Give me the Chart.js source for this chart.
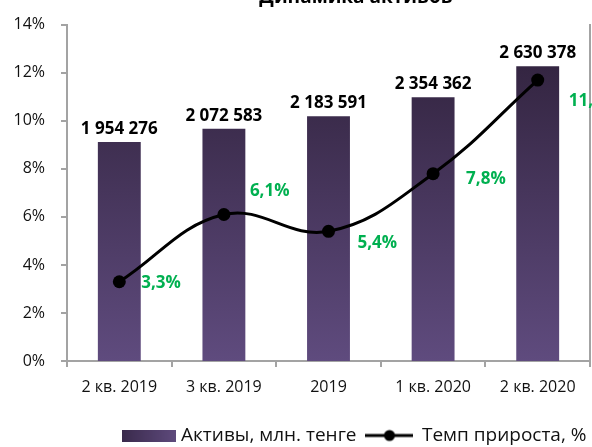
<!DOCTYPE html>
<html>
<head>
<meta charset="utf-8">
<script src="https://cdn.jsdelivr.net/npm/chart.js@4.4.1/dist/chart.umd.min.js"></script>
<style>
    html, body { margin: 0; padding: 0; background: #fff; overflow: hidden; width: 592px; height: 447px; }
    #wrap { position: absolute; left: 0; top: -20px; width: 712px; height: 475px; }
</style>
</head>
<body>
<div id="wrap"><canvas id="js--chart" width="712" height="475"></canvas></div>
<script>
const categories = ['2 кв. 2019', '3 кв. 2019', '2019', '1 кв. 2020', '2 кв. 2020'];
const assets = [1954276, 2072583, 2183591, 2354362, 2630378];
const growth = [3.3, 6.1, 5.4, 7.8, 11.7];
const seriesNames = ['Активы, млн. тенге', 'Темп прироста, %'];

// where the green % labels sit relative to each point (dx, dy)
const growthLabelShift = [[22, 1], [26, -23], [29, 12], [33, 5], [31, 21]];

const FONT = '"Open Sans", "Noto Sans", sans-serif';
const AXIS_GRAY = '#a3a3a3';

const barGradient = (chart) => {
    const area = chart.chartArea;
    if (!area) return '#4a3863';
    const g = chart.ctx.createLinearGradient(0, area.bottom, 0, area.top);
    g.addColorStop(0, '#5f4b7e');
    g.addColorStop(1, '#2e2039');
    return g;
};

function barSwatch() {
    const c = document.createElement('canvas');
    c.width = 54; c.height = 12;
    const g = c.getContext('2d');
    const gr = g.createLinearGradient(0, 0, 54, 0);
    gr.addColorStop(0, '#3a2a4c');
    gr.addColorStop(1, '#5e4a7c');
    g.fillStyle = gr;
    g.fillRect(0, 0, 54, 12);
    return c;
}

function lineSwatch() {
    const c = document.createElement('canvas');
    c.width = 48; c.height = 14;
    const g = c.getContext('2d');
    g.strokeStyle = '#000';
    g.lineWidth = 3;
    g.beginPath(); g.moveTo(0, 7); g.lineTo(48, 7); g.stroke();
    g.fillStyle = '#000';
    g.beginPath(); g.arc(24, 7, 5.5, 0, Math.PI * 2); g.fill();
    return c;
}

const swatches = [barSwatch(), lineSwatch()];

const fmtNumber = v => String(v).replace(/\B(?=(\d{3})+(?!\d))/g, ' ');
const fmtPercent = v => v.toFixed(1).replace('.', ',') + '%';

const valueLabels = {
    id: 'valueLabels',
    afterDatasetsDraw(chart) {
        const ctx = chart.ctx;
        ctx.save();
        ctx.font = 'bold 17px ' + FONT;
        ctx.textBaseline = 'middle';

        const bars = chart.getDatasetMeta(0).data;
        ctx.fillStyle = '#000';
        ctx.textAlign = 'center';
        bars.forEach((bar, i) => {
            ctx.fillText(fmtNumber(assets[i]), bar.x, bar.y - 13);
        });

        const points = chart.getDatasetMeta(1).data;
        ctx.fillStyle = '#00b050';
        ctx.textAlign = 'left';
        points.forEach((pt, i) => {
            const [dx, dy] = growthLabelShift[i];
            ctx.fillText(fmtPercent(growth[i]), pt.x + dx, pt.y + dy);
        });
        ctx.restore();
    }
};

const chart = new Chart(document.getElementById('js--chart'), {
    data: {
        labels: categories,
        datasets: [{
            type: 'bar',
            label: seriesNames[0],
            data: assets,
            yAxisID: 'y2',
            order: 1,
            backgroundColor: ctx => barGradient(ctx.chart),
            borderWidth: 0,
            categoryPercentage: 1,
            barPercentage: 0.41
        }, {
            type: 'line',
            label: seriesNames[1],
            data: growth,
            yAxisID: 'y',
            order: 0,
            borderColor: '#000',
            borderWidth: 3,
            tension: 0.4,
            pointRadius: 6.5,
            pointBackgroundColor: '#000',
            pointBorderWidth: 0
        }]
    },
    options: {
        responsive: false,
        animation: false,
        devicePixelRatio: 1,
        layout: { padding: 0 },
        plugins: {
            tooltip: { enabled: false },
            title: {
                display: true,
                text: 'Динамика активов',
                color: '#000',
                font: { family: FONT, size: 19, weight: 'bold' },
                padding: { top: 6, bottom: 16 }
            },
            legend: {
                position: 'bottom',
                labels: {
                    usePointStyle: true,
                    pointStyleWidth: 46,
                    color: '#111',
                    font: { family: FONT, size: 19 },
                    padding: 10,
                    sort: (a, b) => a.datasetIndex - b.datasetIndex,
                    generateLabels: (c) => {
                        const items = Chart.defaults.plugins.legend.labels.generateLabels(c);
                        items.forEach(it => { it.pointStyle = swatches[it.datasetIndex]; });
                        return items;
                    }
                }
            }
        },
        scales: {
            x: {
                grid: { display: true, drawOnChartArea: false, tickLength: 6, color: AXIS_GRAY, lineWidth: 2 },
                border: { color: AXIS_GRAY, width: 2 },
                ticks: { color: '#111', font: { family: FONT, size: 16 }, padding: 11, maxRotation: 0 },
                afterFit: s => { s.height = 55; }
            },
            y: {
                position: 'left',
                min: 0,
                max: 14,
                grid: { display: true, drawOnChartArea: false, tickLength: 6, color: AXIS_GRAY, lineWidth: 2 },
                border: { color: AXIS_GRAY, width: 2 },
                ticks: { stepSize: 2, color: '#111', font: { family: FONT, size: 16 }, padding: 16, callback: v => v + '%' },
                afterFit: s => { s.width = 67; }
            },
            y2: {
                position: 'right',
                min: 0,
                max: 3000000,
                grid: { display: false },
                border: { color: AXIS_GRAY, width: 2 },
                ticks: { display: false },
                afterFit: s => { s.width = 122; }
            }
        }
    },
    plugins: [valueLabels]
});
</script>
</body>
</html>
